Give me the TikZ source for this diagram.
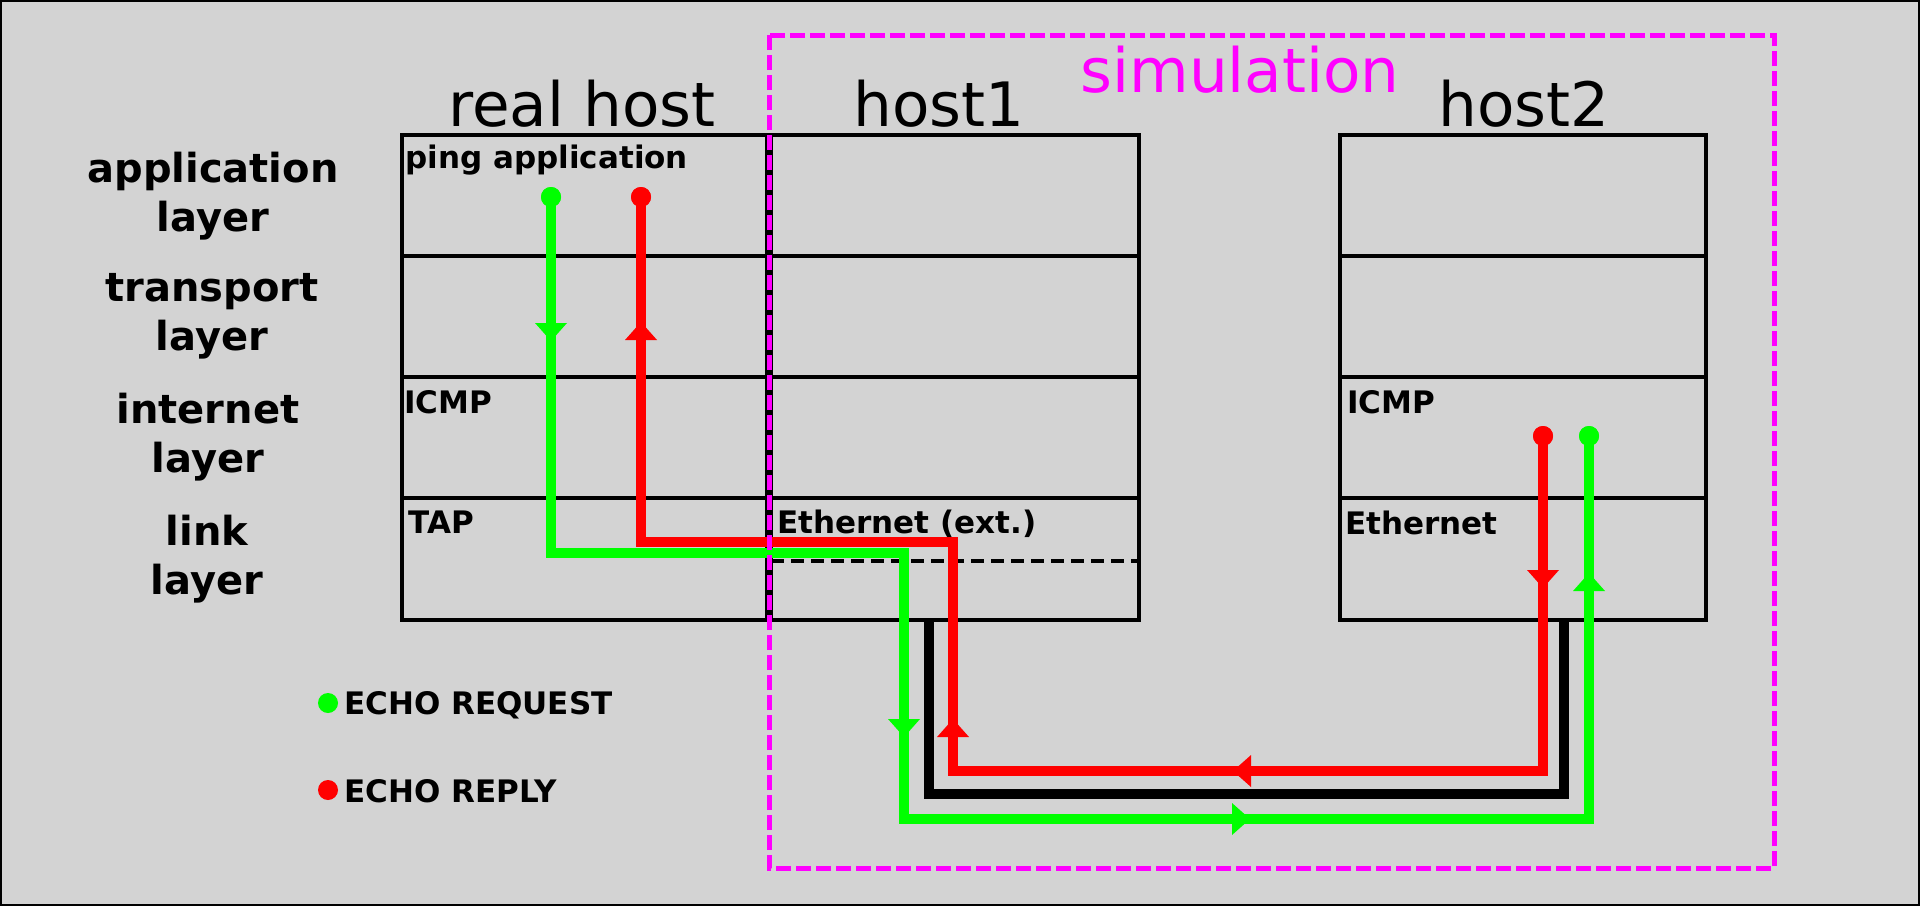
\documentclass[tikz,border=0pt]{standalone}
\usepackage{fontspec}
\setmainfont{DejaVu Sans}
\definecolor{bg}{HTML}{D3D3D3}
\definecolor{pgreen}{HTML}{00FF00}
\definecolor{pred}{HTML}{FF0000}
\definecolor{pmag}{HTML}{FF00FF}
\tikzset{
  cell/.style={draw=black, line width=2.3pt},
  flow/.style={line width=5pt, line join=miter},
  cable/.style={draw=black, line width=5pt},
  dotnode/.style={circle, fill, inner sep=0pt, minimum size=10pt},
  title/.style={anchor=base, inner sep=0pt, font=\fontsize{30.6}{36}\selectfont},
  layerlbl/.style={align=center, inner sep=0pt, font=\bfseries\fontsize{20}{24.5}\selectfont},
  lbl/.style={anchor=base west, inner sep=0pt, font=\bfseries\fontsize{15.5}{18}\selectfont},
  simbox/.style={draw=pmag, line width=2.5pt, dash pattern=on 7.5pt off 2.5pt},
  extline/.style={draw=black, line width=2pt, dash pattern=on 6.5pt off 3.5pt},
  tridown/.pic={\fill (-16,-9) -- (16,-9) -- (0,9) -- cycle;},
  triup/.pic={\fill (-16,9) -- (16,9) -- (0,-9) -- cycle;},
  trileft/.pic={\fill (9,-16) -- (9,16) -- (-9,0) -- cycle;},
  triright/.pic={\fill (-9,-16) -- (-9,16) -- (9,0) -- cycle;},
}
\begin{document}
\begin{tikzpicture}[x=0.5pt,y=-0.5pt]
\useasboundingbox (0,0) rectangle (1920,906);
\fill[bg] (0,0) rectangle (1920,906);
\draw[black, line width=1pt] (1,1) rectangle (1919,905);

% layer labels
\node[layerlbl] (lapp) at (213,196) {application\\layer};
\node[layerlbl] (ltra) at (212,316) {transport\\layer};
\node[layerlbl] (lint) at (208,437) {internet\\layer};
\node[layerlbl] (llnk) at (207,559) {link\\layer};

% titles
\node[title] (trh) at (582,126) {real host};
\node[title] (th1) at (939,126) {host1};
\node[title] (th2) at (1524,126) {host2};
\node[title, text=pmag] (tsim) at (1240,92) {simulation};

% boxes
\foreach \xa/\xb in {402/769, 769/1139, 1340/1706}{
  \draw[cell] (\xa,135) rectangle (\xb,620);
  \foreach \yy in {256,377,498}{ \draw[cell] (\xa,\yy) -- (\xb,\yy); }
}
\draw[black, line width=4pt] (769,135) -- (769,620);
\draw[extline] (771,561) -- (1139,561);

% cell labels
\node[lbl] (lping) at (405,168) {ping application};
\node[lbl] (licmp1) at (404,413) {ICMP};
\node[lbl] (ltap) at (408,533) {TAP};
\node[lbl] (leth1) at (777,533) {Ethernet (ext.)};
\node[lbl] (licmp2) at (1347,413) {ICMP};
\node[lbl] (leth2) at (1345,534) {Ethernet};

% cable
\coordinate (k1) at (929,620);
\coordinate (k2) at (929,794);
\coordinate (k3) at (1564,794);
\coordinate (k4) at (1564,620);
\draw[cable, line join=miter] (k1) -- (k2) -- (k3) -- (k4);

% dots
\node[dotnode, pgreen] (gA) at (551,197) {};
\node[dotnode, pred] (rA) at (641,197) {};
\node[dotnode, pred] (rB) at (1543,436) {};
\node[dotnode, pgreen] (gB) at (1589,436) {};

% green: echo request
\coordinate (g1) at (904,553);
\coordinate (g2) at (904,819);
\draw[flow, pgreen] (gA.center) |- (g1) -- (g2) -| (gB.center);
% red: echo reply
\coordinate (r1) at (953,542);
\coordinate (r2) at (953,771);
\draw[flow, pred] (rB.center) |- (r2) -- (r1) -| (rA.center);

\node[dotnode, pgreen] at (gA) {};
\node[dotnode, pred] at (rA) {};
\node[dotnode, pred] at (rB) {};
\node[dotnode, pgreen] at (gB) {};

% arrow markers
\pic[pgreen] at (551,332) {tridown};
\pic[pred] at (641,331) {triup};
\pic[pgreen] at (904,728) {tridown};
\pic[pred] at (953,728) {triup};
\pic[pred] at (1242,771) {trileft};
\pic[pgreen] at (1241,819) {triright};
\pic[pred] at (1543,579) {tridown};
\pic[pgreen] at (1589,582) {triup};

% legend
\node[dotnode, pgreen] (lg) at (328,703) {};
\node[lbl] (lreq) at (344,714) {ECHO REQUEST};
\node[dotnode, pred] (lr) at (328,790) {};
\node[lbl] (lrep) at (344,802) {ECHO REPLY};

% simulation region
\draw[simbox] (769,35) rectangle (1774,868);
\end{tikzpicture}
\end{document}
